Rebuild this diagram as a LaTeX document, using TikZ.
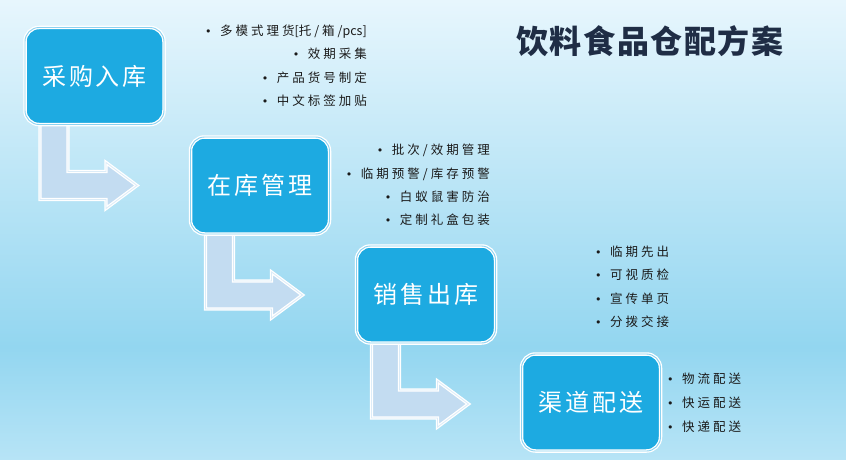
\documentclass[tikz,border=0pt]{standalone}
\usepackage{fontspec}
\usetikzlibrary{calc}
\newfontfamily\boxfont[LetterSpace=12]{Noto Sans CJK SC}
\newfontfamily\listfont[LetterSpace=24]{Noto Sans CJK SC}
\newfontfamily\plainfont{Noto Sans CJK SC}
\newfontfamily\bulletfont{DejaVu Sans}
\newfontfamily\titlefont[LetterSpace=5]{Noto Sans CJK SC}
\newcommand{\bul}{{\bulletfont\fontsize{11}{14}\selectfont •}\hspace{8.5pt}}
\definecolor{bgtop}{HTML}{E7F6FD}
\definecolor{bgmid}{HTML}{93D6F0}
\definecolor{bgbot}{HTML}{B7E4F6}
\definecolor{boxblue}{HTML}{1DAAE1}
\definecolor{gapblue}{HTML}{8CD2F0}
\definecolor{arrowfill}{HTML}{C3DCF1}
\definecolor{arrowgap}{HTML}{DCECF8}
\definecolor{titlecol}{HTML}{1F2D45}
\definecolor{listcol}{HTML}{1A1A1A}
\begin{document}
\begin{tikzpicture}[x=1pt,y=-1pt,
  stepbox/.style={rectangle, rounded corners=14pt, minimum width=139pt, minimum height=97pt,
    fill=boxblue, draw=white, line width=1.3pt, double=gapblue, double distance=0.9pt,
    text=white, font=\boxfont\fontsize{24}{28}\selectfont, inner sep=0pt},
  bentarrow/.style={fill=arrowfill, draw=white, line width=1.3pt, double=arrowgap, double distance=0.8pt, line join=miter},
  litem/.style={font=\listfont\fontsize{12.5}{14}\selectfont, text=listcol, inner sep=0pt, text height=9pt, text depth=3pt}
]
\useasboundingbox (0,0) rectangle (846,460);
% background
\shade[top color=bgtop, bottom color=bgmid] (0,0) rectangle (846,347);
\shade[top color=bgmid, bottom color=bgbot] (0,347) rectangle (846,460.5);

% box centres
\path (94.5,76) coordinate (c1) (260,185.5) coordinate (c2) (426,294.5) coordinate (c3) (591,402.5) coordinate (c4);
\path ($(c1)+(-69.5,48.5)$) coordinate (sw1);
\path ($(c2)+(-69.5,48.5)$) coordinate (sw2);
\path ($(c3)+(-69.5,48.5)$) coordinate (sw3);

% bent arrows
\foreach \s in {sw1,sw2,sw3}{
  \begin{scope}[shift={(\s)}]
    \draw[bentarrow] (15,-3) -- (43,-3) -- (43,47) -- (81,47) -- (81,38) -- (112,61) -- (81,84) -- (81,75) -- (15,75) -- cycle;
  \end{scope}
}

\node[stepbox] (b1) at (c1) {采购入库};
\node[stepbox] (b2) at (c2) {在库管理};
\node[stepbox] (b3) at (c3) {销售出库};
\node[stepbox] (b4) at (c4) {渠道配送};

% title
\node[font=\titlefont\bfseries\fontsize{32}{36}\selectfont, text=titlecol, inner sep=0pt] (title) at (650,41) {饮料食品仓配方案};

% list 1 (right aligned)
\node[litem, anchor=east] (l11) at (367,33) {\bul 多模式理货{\plainfont[}托/箱/{\plainfont pcs]}};
\node[litem, anchor=east] (l12) at (367,56) {\bul 效期采集};
\node[litem, anchor=east] (l13) at (367,79) {\bul 产品货号制定};
\node[litem, anchor=east] (l14) at (367,102) {\bul 中文标签加贴};

% list 2 (right aligned)
\node[litem, anchor=east] (l21) at (490,151) {\bul 批次/效期管理};
\node[litem, anchor=east] (l22) at (490,175) {\bul 临期预警/库存预警};
\node[litem, anchor=east] (l23) at (490,198) {\bul 白蚁鼠害防治};
\node[litem, anchor=east] (l24) at (490,221) {\bul 定制礼盒包装};

% list 3 (left aligned)
\node[litem, anchor=west] (l31) at (595,253) {\bul 临期先出};
\node[litem, anchor=west] (l32) at (595,276) {\bul 可视质检};
\node[litem, anchor=west] (l33) at (595,300) {\bul 宣传单页};
\node[litem, anchor=west] (l34) at (595,323) {\bul 分拨交接};

% list 4 (left aligned)
\node[litem, anchor=west] (l41) at (667,380) {\bul 物流配送};
\node[litem, anchor=west] (l42) at (667,404) {\bul 快运配送};
\node[litem, anchor=west] (l43) at (667,428) {\bul 快递配送};
\end{tikzpicture}
\end{document}
